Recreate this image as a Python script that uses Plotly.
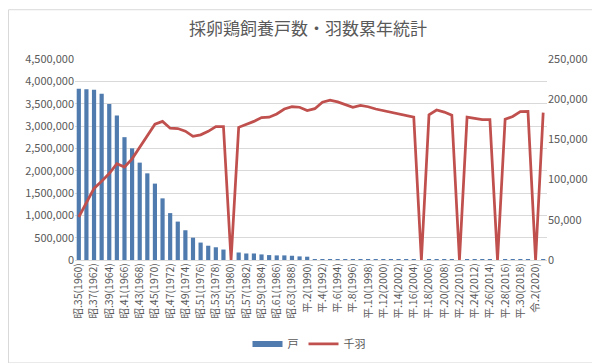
import plotly.graph_objects as go

years = list(range(1960, 2022))

def era(y):
    if y <= 1988:
        return f"昭.{y - 1925}({y})"
    if y <= 2018:
        return f"平.{y - 1988}({y})"
    return f"令.{y - 2018}({y})"

labels = [era(y) for y in years]

# 戸 (households)
households = [
    3832000, 3820000, 3810000, 3720000, 3490000, 3235000, 2750000, 2500000, 2180000, 1940000,
    1710000, 1380000, 1050000, 860000, 666000, 500000, 390000, 320000, 285000, 234000,
    0, 168000, 146000, 146000, 125000, 110000, 103000, 103000, 95000, 81000,
    74000, 10500, 9700, 9050, 8000, 7300, 6600, 6000, 5500, 5100,
    4900, 4700, 4500, 4300, 4100, 0, 3800, 3600, 3500, 3300,
    0, 3000, 2900, 2800, 2700, 0, 2500, 2400, 2300, 2200,
    0, 1900,
]

# 千羽 (thousand birds)
birds = [
    53500, 71000, 89000, 98000, 107500, 119700, 115600, 125800, 140000, 155000,
    169000, 172400, 163900, 163500, 160200, 153800, 155700, 160000, 166000, 166000,
    0, 165000, 168300, 172400, 177200, 177600, 181700, 187800, 190600, 190000,
    185800, 188200, 196300, 198800, 196700, 193400, 189800, 192200, 190600, 187800,
    185800, 183700, 181300, 180000, 177600, 0, 180500, 186600, 184000, 180000,
    0, 177600, 176400, 174500, 174500, 0, 175000, 178500, 184500, 184700,
    0, 183300,
]

tick_years = years[::2]
tick_text = labels[::2]

gray = "#595959"
font_family = "Noto Sans CJK JP, Noto Sans, sans-serif"

fig = go.Figure()
fig.add_trace(go.Bar(
    x=years, y=households, name="戸", marker_color="#4F7BAE",
    marker_line_width=0, showlegend=False, yaxis="y",
))
fig.add_trace(go.Scatter(
    x=years, y=birds, name="千羽", mode="lines",
    line=dict(color="#C0504D", width=2.75), yaxis="y2", showlegend=False,
))
# legend entries
fig.add_trace(go.Scatter(x=[None], y=[None], mode="lines", name="戸",
                         line=dict(color="#4F7BAE", width=6)))
fig.add_trace(go.Scatter(x=[None], y=[None], mode="lines", name="千羽",
                         line=dict(color="#C0504D", width=2.75), yaxis="y2"))

x0p, x1p = 67, 539
y0p, y1p = 51, 257
def px_x(p):
    return (p - x0p) / (x1p - x0p)
def px_y(p):
    return (y1p - p) / (y1p - y0p)

fig.update_layout(
    width=600, height=363,
    margin=dict(l=x0p, r=600 - x1p, t=y0p, b=363 - y1p),
    paper_bgcolor="white", plot_bgcolor="white",
    font=dict(family=font_family, color=gray, size=11),
    title=dict(text="採卵鶏飼養戸数・羽数累年統計", x=0.5, xanchor="center",
               y=1 - 21 / 363, yanchor="middle",
               font=dict(size=17, color=gray, family=font_family)),
    bargap=0.45,
    xaxis=dict(range=[1959.5, 2021.5], tickmode="array", tickvals=tick_years,
               ticktext=tick_text, tickangle=-90, showgrid=False,
               showline=False, ticks="", tickfont=dict(size=10.5, color=gray),
               zeroline=False),
    yaxis=dict(range=[0, 4500000], dtick=500000, tickformat=",d",
               showgrid=True, gridcolor="#D9D9D9", gridwidth=1,
               zeroline=True, zerolinecolor="#D9D9D9", zerolinewidth=1,
               ticks="", tickfont=dict(size=11, color=gray)),
    yaxis2=dict(range=[0, 250000], dtick=50000, tickformat=",d",
                overlaying="y", side="right", showgrid=False, zeroline=False,
                ticks="", tickfont=dict(size=11, color=gray)),
    legend=dict(orientation="h", x=px_x(301), xanchor="center",
                y=px_y(343), yanchor="middle", font=dict(size=11, color=gray),
                itemwidth=30, bgcolor="rgba(0,0,0,0)"),
    shapes=[dict(type="rect", xref="paper", yref="paper",
                 x0=px_x(0.5), x1=px_x(599.5), y0=px_y(362.5), y1=px_y(0.5),
                 line=dict(color="#D9D9D9", width=1), fillcolor="rgba(0,0,0,0)",
                 layer="below")],
)

fig.write_html("out.html")
